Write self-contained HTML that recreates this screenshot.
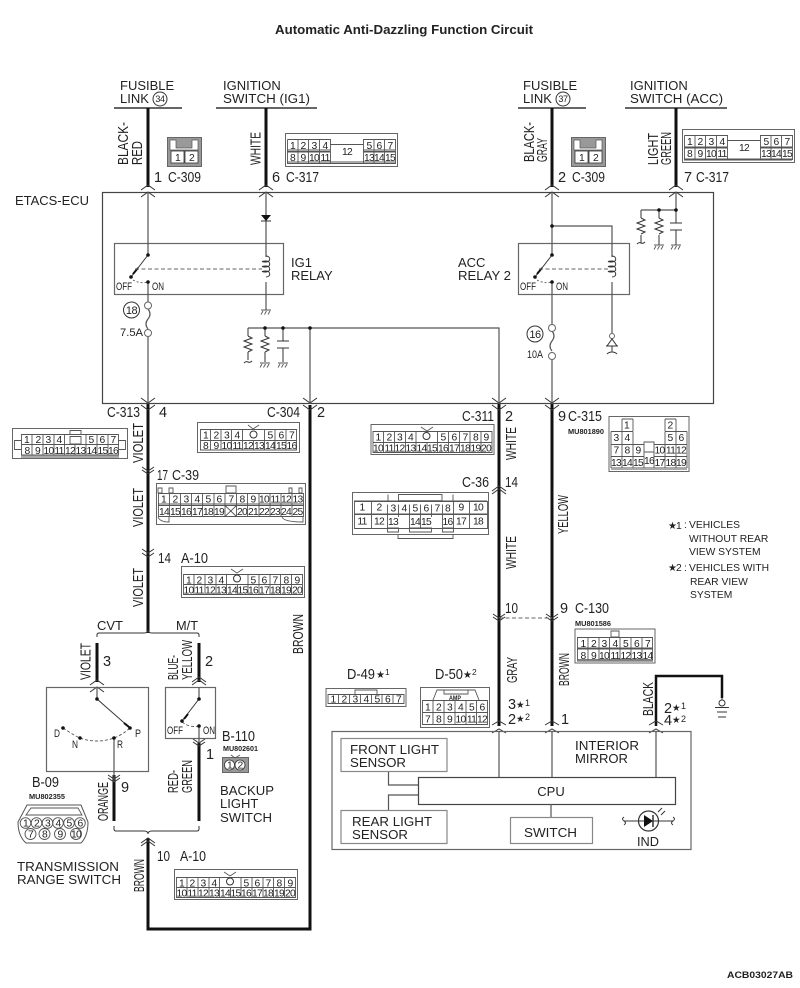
<!DOCTYPE html>
<html><head><meta charset="utf-8">
<style>
html,body{margin:0;padding:0;background:#fff;width:800px;height:988px;overflow:hidden}
svg{display:block}
text{font-family:"Liberation Sans",sans-serif;fill:#222}
.t{font-size:13px}
.c{font-size:14.5px}
.w{font-size:14.5px}
.s{font-size:10.3px}
.m{font-size:7.5px;font-weight:bold}
.n{font-size:10.3px;text-anchor:middle;letter-spacing:-.7px}
.th{fill:none;stroke:#111;stroke-width:3}
.l{fill:none;stroke:#555;stroke-width:1.2}
.b{fill:none;stroke:#666;stroke-width:1.2}
.k{fill:none;stroke:#333;stroke-width:1}
.g{fill:none;stroke:#555;stroke-width:.9}
.o{fill:#fff;stroke:#666;stroke-width:1}
.band{fill:#aaa;stroke:none}
.dash{fill:none;stroke:#666;stroke-width:1;stroke-dasharray:4 2.5}
.d{fill:#111;stroke:none}
</style></head><body>
<svg width="800" height="988" viewBox="0 0 800 988" xmlns="http://www.w3.org/2000/svg">
<text x="275" y="34" style="font-size:12.8px;font-weight:bold" textLength="258" lengthAdjust="spacingAndGlyphs">Automatic Anti-Dazzling Function Circuit</text>
<text x="727" y="978" style="font-size:9.5px;font-weight:bold" textLength="66" lengthAdjust="spacingAndGlyphs">ACB03027AB</text>

<!-- top buses -->
<path class="k" stroke-width="1.5" style="stroke-width:1.5" d="M114 108H182M216 108H317M518 108H586M625 108H727"/>
<text class="t" x="120" y="90">FUSIBLE</text><text class="t" x="120" y="103">LINK</text>
<circle cx="160" cy="99" r="7" class="k"/><text x="160" y="102" style="font-size:9px;text-anchor:middle;letter-spacing:-.4px">34</text>
<text class="t" x="223" y="90">IGNITION</text><text class="t" x="223" y="103" textLength="87" lengthAdjust="spacingAndGlyphs">SWITCH (IG1)</text>
<text class="t" x="523" y="90">FUSIBLE</text><text class="t" x="523" y="103">LINK</text>
<circle cx="563" cy="99" r="7" class="k"/><text x="563" y="102" style="font-size:9px;text-anchor:middle;letter-spacing:-.4px">37</text>
<text class="t" x="630" y="90">IGNITION</text><text class="t" x="630" y="103" textLength="93" lengthAdjust="spacingAndGlyphs">SWITCH (ACC)</text>

<!-- thick wires -->
<path class="th" d="M148 108V187M266 108V187M552 108V187M676 108V187"/>
<path class="th" d="M148 404V633M310 405V929H148V838M499 404V726M552 404V726"/>
<path class="th" d="M97 643V682M199 643V682M114 775V821M199 743V821"/>
<path class="th" style="stroke-width:2.5" d="M656 726V676H722V698"/>

<!-- ECU -->
<rect x="102.500" y="192.500" width="611" height="211" class="b" style="stroke:#444"/>
<text class="t" x="15" y="205" textLength="74" lengthAdjust="spacingAndGlyphs">ETACS-ECU</text>

<!-- wire labels rotated -->
<g>
<text class="w" transform="translate(128,165) rotate(-90)" textLength="43" lengthAdjust="spacingAndGlyphs">BLACK-</text>
<text class="w" transform="translate(142,165) rotate(-90)" textLength="24" lengthAdjust="spacingAndGlyphs">RED</text>
<text class="w" transform="translate(260.500,165) rotate(-90)" textLength="33" lengthAdjust="spacingAndGlyphs">WHITE</text>
<text class="w" transform="translate(534,162) rotate(-90)" textLength="40" lengthAdjust="spacingAndGlyphs">BLACK-</text>
<text class="w" transform="translate(547,162) rotate(-90)" textLength="24" lengthAdjust="spacingAndGlyphs">GRAY</text>
<text class="w" transform="translate(658,165) rotate(-90)" textLength="32" lengthAdjust="spacingAndGlyphs">LIGHT</text>
<text class="w" transform="translate(671,165) rotate(-90)" textLength="33" lengthAdjust="spacingAndGlyphs">GREEN</text>
<text class="w" transform="translate(143,463) rotate(-90)" textLength="40" lengthAdjust="spacingAndGlyphs">VIOLET</text>
<text class="w" transform="translate(143,527) rotate(-90)" textLength="39" lengthAdjust="spacingAndGlyphs">VIOLET</text>
<text class="w" transform="translate(143,607) rotate(-90)" textLength="39" lengthAdjust="spacingAndGlyphs">VIOLET</text>
<text class="w" transform="translate(303,654) rotate(-90)" textLength="40" lengthAdjust="spacingAndGlyphs">BROWN</text>
<text class="w" transform="translate(516,460) rotate(-90)" textLength="33" lengthAdjust="spacingAndGlyphs">WHITE</text>
<text class="w" transform="translate(516,569) rotate(-90)" textLength="33" lengthAdjust="spacingAndGlyphs">WHITE</text>
<text class="w" transform="translate(568,534) rotate(-90)" textLength="39" lengthAdjust="spacingAndGlyphs">YELLOW</text>
<text class="w" transform="translate(517,683) rotate(-90)" textLength="26" lengthAdjust="spacingAndGlyphs">GRAY</text>
<text class="w" transform="translate(569,686) rotate(-90)" textLength="33" lengthAdjust="spacingAndGlyphs">BROWN</text>
<text class="w" transform="translate(653,716) rotate(-90)" textLength="34" lengthAdjust="spacingAndGlyphs">BLACK</text>
<text class="w" transform="translate(90.500,680) rotate(-90)" textLength="37" lengthAdjust="spacingAndGlyphs">VIOLET</text>
<text class="w" transform="translate(178,680) rotate(-90)" textLength="25" lengthAdjust="spacingAndGlyphs">BLUE-</text>
<text class="w" transform="translate(192,680) rotate(-90)" textLength="40" lengthAdjust="spacingAndGlyphs">YELLOW</text>
<text class="w" transform="translate(108,821) rotate(-90)" textLength="39" lengthAdjust="spacingAndGlyphs">ORANGE</text>
<text class="w" transform="translate(178,793) rotate(-90)" textLength="23" lengthAdjust="spacingAndGlyphs">RED-</text>
<text class="w" transform="translate(192,793) rotate(-90)" textLength="33" lengthAdjust="spacingAndGlyphs">GREEN</text>
<text class="w" transform="translate(144,892) rotate(-90)" textLength="33" lengthAdjust="spacingAndGlyphs">BROWN</text>
</g>

<!-- pin / connector labels -->
<g>
<text class="c" x="154" y="182">1</text><text class="c" x="168" y="182" textLength="33" lengthAdjust="spacingAndGlyphs">C-309</text>
<text class="c" x="272" y="182">6</text><text class="c" x="286" y="182" textLength="33" lengthAdjust="spacingAndGlyphs">C-317</text>
<text class="c" x="558" y="182">2</text><text class="c" x="572" y="182" textLength="33" lengthAdjust="spacingAndGlyphs">C-309</text>
<text class="c" x="684" y="182">7</text><text class="c" x="696" y="182" textLength="33" lengthAdjust="spacingAndGlyphs">C-317</text>
<text class="c" x="107" y="417" textLength="33" lengthAdjust="spacingAndGlyphs">C-313</text><text class="c" x="159" y="417">4</text>
<text class="c" x="267" y="417" textLength="33" lengthAdjust="spacingAndGlyphs">C-304</text><text class="c" x="317" y="417">2</text>
<text class="c" x="462" y="421" textLength="32" lengthAdjust="spacingAndGlyphs">C-311</text><text class="c" x="505" y="421">2</text>
<text class="c" x="558" y="421">9</text><text class="c" x="568" y="421" textLength="34" lengthAdjust="spacingAndGlyphs">C-315</text>
<text class="m" x="568" y="434" textLength="36" lengthAdjust="spacingAndGlyphs">MU801890</text>
<text class="c" x="157" y="480" textLength="11" lengthAdjust="spacingAndGlyphs">17</text><text class="c" x="172" y="480" textLength="27" lengthAdjust="spacingAndGlyphs">C-39</text>
<text class="c" x="462" y="487" textLength="27" lengthAdjust="spacingAndGlyphs">C-36</text><text class="c" x="505" y="487" textLength="13" lengthAdjust="spacingAndGlyphs">14</text>
<text class="c" x="158" y="563" textLength="13" lengthAdjust="spacingAndGlyphs">14</text><text class="c" x="181" y="563" textLength="27" lengthAdjust="spacingAndGlyphs">A-10</text>
<text class="c" x="505" y="613" textLength="13" lengthAdjust="spacingAndGlyphs">10</text>
<text class="c" x="560" y="613">9</text><text class="c" x="575" y="613" textLength="34" lengthAdjust="spacingAndGlyphs">C-130</text>
<text class="m" x="575" y="626" textLength="36" lengthAdjust="spacingAndGlyphs">MU801586</text>
<text class="t" x="97" y="630" textLength="26" lengthAdjust="spacingAndGlyphs">CVT</text>
<text class="t" x="176" y="630" textLength="22" lengthAdjust="spacingAndGlyphs">M/T</text>
<text class="c" x="103" y="666">3</text><text class="c" x="205" y="666">2</text>
<text class="c" x="206" y="759">1</text><text class="c" x="121" y="792">9</text>
<text class="c" x="222" y="741" textLength="33" lengthAdjust="spacingAndGlyphs">B-110</text>
<text class="m" x="223" y="751" textLength="35" lengthAdjust="spacingAndGlyphs">MU802601</text>
<text class="c" x="32" y="787" textLength="27" lengthAdjust="spacingAndGlyphs">B-09</text>
<text class="m" x="29" y="799" textLength="36" lengthAdjust="spacingAndGlyphs">MU802355</text>
<text class="c" x="157" y="861" textLength="13" lengthAdjust="spacingAndGlyphs">10</text><text class="c" x="180" y="861" textLength="26" lengthAdjust="spacingAndGlyphs">A-10</text>
<text class="c" x="347" y="679" textLength="28" lengthAdjust="spacingAndGlyphs">D-49</text><text x="376" y="678" style="font-size:10px">★</text><text x="385" y="675" style="font-size:8.500px">1</text>
<text class="c" x="435" y="679" textLength="28" lengthAdjust="spacingAndGlyphs">D-50</text><text x="463" y="678" style="font-size:10px">★</text><text x="472" y="675" style="font-size:8.500px">2</text>
<text class="c" x="508" y="709">3</text><text x="516" y="708" style="font-size:9.500px">★</text><text x="525" y="706" style="font-size:9px">1</text>
<text class="c" x="508" y="724">2</text><text x="516" y="722" style="font-size:9.500px">★</text><text x="525" y="720" style="font-size:9px">2</text>
<text class="c" x="561" y="724">1</text>
<text class="c" x="664" y="713">2</text><text x="672" y="711" style="font-size:9.500px">★</text><text x="681" y="709" style="font-size:9px">1</text>
<text class="c" x="664" y="725">4</text><text x="672" y="723" style="font-size:9.500px">★</text><text x="681" y="722" style="font-size:9px">2</text>
<text class="s" x="668" y="529" style="font-size:10px">★</text><text class="s" x="676" y="529">1</text><text class="s" x="684" y="528">:</text>
<text class="s" x="689" y="528">VEHICLES</text><text class="s" x="689" y="542">WITHOUT REAR</text><text class="s" x="689" y="555">VIEW SYSTEM</text>
<text class="s" x="668" y="571" style="font-size:10px">★</text><text class="s" x="676" y="571">2</text><text class="s" x="684" y="571">:</text>
<text class="s" x="689" y="571">VEHICLES WITH</text><text class="s" x="690" y="585">REAR VIEW</text><text class="s" x="690" y="598">SYSTEM</text>
<text class="t" x="291" y="267">IG1</text><text class="t" x="291" y="280">RELAY</text>
<text class="t" x="458" y="267">ACC</text><text class="t" x="458" y="280" textLength="53" lengthAdjust="spacingAndGlyphs">RELAY 2</text>
<text class="t" x="220" y="795" textLength="54" lengthAdjust="spacingAndGlyphs">BACKUP</text><text class="t" x="220" y="808">LIGHT</text><text class="t" x="220" y="822" textLength="52" lengthAdjust="spacingAndGlyphs">SWITCH</text>
<text class="t" x="17" y="871" textLength="102" lengthAdjust="spacingAndGlyphs">TRANSMISSION</text><text class="t" x="17" y="884" textLength="104" lengthAdjust="spacingAndGlyphs">RANGE SWITCH</text>
</g>

<!-- chevrons -->
<path class="k" d="M141 190L148 185L155 190M141 197L148 192L155 197M259 190L266 185L273 190M259 197L266 192L273 197M545 190L552 185L559 190M545 197L552 192L559 197M669 190L676 185L683 190M669 197L676 192L683 197"/>
<path class="k" d="M141 398L148 403L155 398M141 405L148 410L155 405M303 398L310 403L317 398M303 405L310 410L317 405M492 398L499 403L506 398M492 405L499 410L506 405M545 398L552 403L559 398M545 405L552 410L559 405"/>
<path class="k" d="M142 467L148 471L154 467M142 470L148 474L154 470M142 549L148 553L154 549M142 553L148 557L154 553"/>
<path class="k" d="M492 491L499 486L506 491M492 494L499 489L506 494M493 614L499 618L505 614M493 617L499 621L505 617M546 614L552 618L558 614M546 617L552 621L558 617"/>
<path class="k" d="M90 685L97 680L104 685M90 692L97 687L104 692M192 682L199 677L206 682M192 685L199 680L206 685"/>
<path class="k" d="M108 775L114 779L120 775M108 778L114 782L120 778M193 739L199 743L205 739M193 742L199 746L205 742"/>
<path class="k" d="M141 843L148 838L155 843M141 846L148 841L155 846"/>
<path class="k" d="M492 725L499 721L506 725M492 733L499 729L506 733M545 725L552 721L559 725M545 733L552 729L559 733M649 725L656 721L663 725M649 733L656 729L663 733"/>

<!-- IG1 relay -->
<rect x="114.500" y="243.500" width="169" height="51" class="b"/>
<path class="l" d="M148 192V255M148 282V302M148 337V404"/>
<path class="l" d="M148 309q4 5 0 10q-4 5 0 10"/>
<circle cx="148" cy="305.500" r="3.500" class="o"/><circle cx="148" cy="333" r="3.500" class="o"/>
<path class="k" d="M148 255L131 277"/><path class="th" style="stroke-width:2" d="M138 268L133 274"/>
<circle class="d" cx="148" cy="255" r="1.800"/><circle class="d" cx="131" cy="277" r="1.800"/><circle class="d" cx="148" cy="282" r="1.800"/>
<path class="dash" d="M135 269H262"/>
<path class="g" stroke-dasharray="2 2" d="M133 280Q140 284 148 282"/>
<text class="c" style="font-size:11px" x="116" y="290" textLength="16" lengthAdjust="spacingAndGlyphs">OFF</text>
<text class="c" style="font-size:11px" x="152" y="290" textLength="12" lengthAdjust="spacingAndGlyphs">ON</text>
<circle cx="131.500" cy="310" r="8" class="k"/><text x="131.500" y="314" style="font-size:11px;text-anchor:middle;letter-spacing:-.5px">18</text>
<text x="120" y="336" style="font-size:11px" textLength="23" lengthAdjust="spacingAndGlyphs">7.5A</text>
<path class="l" d="M266 192V257M266 282V310"/>
<path class="d" d="M261 215H271L266 221Z"/><path class="k" d="M261 221H271"/>
<path class="k" d="M266 256c5 0 5 6 0 6c-5 0-5-1 0-1c5 0 5 6 0 6c-5 0-5-1 0-1c5 0 5 6 0 6c-5 0-5-1 0-1c5 0 5 6 0 6"/>
<path class="g" d="M261 310H271M263 311l-2 3.500M266.500 311l-2 3.500M270 311l-2 3.500"/>

<!-- network mid -->
<path class="l" d="M248 328H499V404M310 328V404M265 328V336M265 352V362M283 328V341M283 348V362M248 328V336M248 352V360"/>
<path class="k" d="M248 336l4 2l-8 3l8 3l-8 3l8 3l-4 2M265 336l4 2l-8 3l8 3l-8 3l8 3l-4 2"/>
<path class="k" d="M277 341H289M277 348H289"/>
<path class="k" d="M244 363q2-2 4-1t4-1"/>
<path class="g" d="M260 363H270M262 364l-2 3.500M265.500 364l-2 3.500M269 364l-2 3.500M278 363H288M280 364l-2 3.500M283.500 364l-2 3.500M287 364l-2 3.500"/>
<circle class="d" cx="265" cy="328" r="1.800"/><circle class="d" cx="283" cy="328" r="1.800"/><circle class="d" cx="310" cy="328" r="1.800"/>

<!-- ACC relay -->
<rect x="518.500" y="243.500" width="111" height="51" class="b"/>
<path class="l" d="M552 192V255M552 282V325M552 359V404M552 226H612V257M612 282V333"/>
<path class="l" d="M552 331q4 5 0 10q-4 5 0 10"/>
<circle cx="552" cy="328" r="3.500" class="o"/><circle cx="552" cy="356" r="3.500" class="o"/>
<path class="k" d="M552 255L535 277"/><path class="th" style="stroke-width:2" d="M542 268L537 274"/>
<circle class="d" cx="552" cy="255" r="1.800"/><circle class="d" cx="535" cy="277" r="1.800"/><circle class="d" cx="552" cy="282" r="1.800"/><circle class="d" cx="552" cy="226" r="1.800"/>
<path class="dash" d="M539 269H608"/>
<path class="g" stroke-dasharray="2 2" d="M537 280Q544 284 552 282"/>
<text class="c" style="font-size:11px" x="520" y="290" textLength="16" lengthAdjust="spacingAndGlyphs">OFF</text>
<text class="c" style="font-size:11px" x="556" y="290" textLength="12" lengthAdjust="spacingAndGlyphs">ON</text>
<circle cx="535" cy="334" r="8" class="k"/><text x="535" y="338" style="font-size:11px;text-anchor:middle;letter-spacing:-.5px">16</text>
<text x="527" y="358" style="font-size:11px" textLength="16" lengthAdjust="spacingAndGlyphs">10A</text>
<path class="k" d="M612 256c5 0 5 6 0 6c-5 0-5-1 0-1c5 0 5 6 0 6c-5 0-5-1 0-1c5 0 5 6 0 6c-5 0-5-1 0-1c5 0 5 6 0 6"/>
<circle cx="612" cy="336" r="2.500" class="o"/>
<path class="k" d="M612 339L607 346H617ZM606 346H618M607 354q2-2 5-2t5 2M612 346V352"/>

<!-- ACC network -->
<path class="l" d="M641 210H676M676 192V223M676 230V245M659 210V218M659 235V245M641 210V218M641 235V243"/>
<path class="k" d="M641 218l4 2l-8 3l8 3l-8 3l8 3l-4 2M659 218l4 2l-8 3l8 3l-8 3l8 3l-4 2"/>
<path class="k" d="M670 223H682M670 230H682M637 244q2-2 4-1t4-1"/>
<path class="g" d="M654 245H664M656 246l-2 3.500M659.500 246l-2 3.500M663 246l-2 3.500M671 245H681M673 246l-2 3.500M676.500 246l-2 3.500M680 246l-2 3.500"/>
<circle class="d" cx="659" cy="210" r="1.800"/><circle class="d" cx="676" cy="210" r="1.800"/>

<!-- brackets -->
<path class="k" d="M97 637V635q0-2 2-2H144q4 0 4-3q0 3 4 3H197q2 0 2 2V637"/>
<path class="k" d="M114 826V829q0 2 2 2H144q4 0 4 3q0-3 4-3H197q2 0 2-2V826"/>
<path class="dash" d="M499 618H552"/>

<!-- Transmission boxes -->
<rect x="46.500" y="687.500" width="102" height="84" class="b"/>
<rect x="165.500" y="687.500" width="50" height="51" class="b"/>
<path class="l" d="M97 687V699M114 738V782M199 687V699M199 726V742"/>
<path class="k" d="M97 699L130 728M199 699L182 721"/>
<path class="th" style="stroke-width:2" d="M124 723L129 727M188 714L184 719"/>
<path class="g" stroke-dasharray="3 2" d="M63 728Q75 736 80 738Q97 744 114 738Q122 735 130 728M182 722Q190 728 199 726"/>
<circle class="d" cx="97" cy="699" r="1.800"/><circle class="d" cx="63" cy="728" r="1.800"/><circle class="d" cx="80" cy="738" r="1.800"/><circle class="d" cx="114" cy="738" r="1.800"/><circle class="d" cx="130" cy="728" r="1.800"/>
<circle class="d" cx="199" cy="699" r="1.800"/><circle class="d" cx="182" cy="721" r="1.800"/><circle class="d" cx="199" cy="726" r="1.800"/>
<g style="font-size:11px"><text x="54" y="737" style="font-size:11px" textLength="6" lengthAdjust="spacingAndGlyphs">D</text><text x="72" y="748" style="font-size:11px" textLength="6" lengthAdjust="spacingAndGlyphs">N</text><text x="117" y="748" style="font-size:11px" textLength="6" lengthAdjust="spacingAndGlyphs">R</text><text x="135" y="737" style="font-size:11px" textLength="6" lengthAdjust="spacingAndGlyphs">P</text>
<text x="167" y="734" style="font-size:11px" textLength="16" lengthAdjust="spacingAndGlyphs">OFF</text><text x="203" y="734" style="font-size:11px" textLength="12" lengthAdjust="spacingAndGlyphs">ON</text></g>

<!-- Mirror -->
<rect x="332" y="731.500" width="359" height="118" class="b"/>
<rect x="418.500" y="777.500" width="257" height="27" class="b" style="stroke:#444"/>
<text class="t" x="551" y="796" text-anchor="middle">CPU</text>
<path class="l" d="M499 731V777M552 731V777M656 731V777M551 804V817M388.500 771V785H418M388.500 810V795H418"/>
<rect x="341" y="738.500" width="106" height="33" class="b" style="stroke:#888"/>
<rect x="341" y="810.500" width="106" height="33" class="b" style="stroke:#888"/>
<rect x="510.500" y="817.500" width="82" height="26" class="b" style="stroke:#888"/>
<text class="t" x="350" y="754" textLength="89" lengthAdjust="spacingAndGlyphs">FRONT LIGHT</text><text class="t" x="350" y="767" textLength="56" lengthAdjust="spacingAndGlyphs">SENSOR</text>
<text class="t" x="352" y="826" textLength="80" lengthAdjust="spacingAndGlyphs">REAR LIGHT</text><text class="t" x="352" y="839" textLength="56" lengthAdjust="spacingAndGlyphs">SENSOR</text>
<text class="t" x="524" y="837" textLength="53" lengthAdjust="spacingAndGlyphs">SWITCH</text>
<text class="t" x="575" y="750" textLength="64" lengthAdjust="spacingAndGlyphs">INTERIOR</text><text class="t" x="575" y="763" textLength="53" lengthAdjust="spacingAndGlyphs">MIRROR</text>
<circle cx="648.500" cy="821" r="10" class="k" style="stroke-width:1.200"/>
<path class="k" d="M624 821H673M624 817q-3 2 0 4q3 2 0 4M673 817q3 2 0 4q-3 2 0 4"/>
<path class="d" d="M644 815L653 821L644 827Z"/><path class="k" style="stroke-width:1.500" d="M653 815V827"/>
<path class="k" d="M658 812L662 808M661 815L665 811"/>
<text class="t" x="637" y="846" textLength="22" lengthAdjust="spacingAndGlyphs">IND</text>

<!-- ground -->
<path class="k" d="M722 698V700"/><circle cx="722" cy="703" r="3" class="o" style="stroke:#333"/>
<path class="k" d="M715 707.500H729M717 712H727M718 717H726"/>

<!-- C-309 left -->
<g>
<rect x="167.500" y="137.500" width="34" height="29" fill="#999" stroke="#666"/>
<path d="M170 140h6v8h16v-8h6v10h-28z" fill="#fff" stroke="#555" stroke-width=".7"/>
<rect x="171" y="151" width="13" height="12" fill="#fff" stroke="#333" stroke-width=".8"/><rect x="185" y="151" width="13" height="12" fill="#fff" stroke="#333" stroke-width=".8"/>
<text class="n" x="177.500" y="161">1</text><text class="n" x="191.500" y="161">2</text>
</g>
<!-- C-309 right -->
<g>
<rect x="571.500" y="137.500" width="34" height="29" fill="#999" stroke="#666"/>
<path d="M574 140h6v8h16v-8h6v10h-28z" fill="#fff" stroke="#555" stroke-width=".7"/>
<rect x="575" y="151" width="13" height="12" fill="#fff" stroke="#333" stroke-width=".8"/><rect x="589" y="151" width="13" height="12" fill="#fff" stroke="#333" stroke-width=".8"/>
<text class="n" x="581.500" y="161">1</text><text class="n" x="595.500" y="161">2</text>
</g>
<!-- C-317 left -->
<g>
<rect x="285.500" y="133.500" width="112" height="33" fill="#fff" stroke="#666"/>
<rect x="287" y="149" width="43" height="4" class="band"/><rect x="363" y="149" width="32" height="4" class="band"/><rect x="287" y="161" width="108" height="3" class="band"/>
<path class="g" d="M287.500 139.500V163.500H395.500V139.500H363.500V163.500M287.500 139.500H330.500V163.500M298 139.500V163.500M308.500 139.500V163.500M319.500 139.500V163.500M374 139.500V163.500M384.500 139.500V163.500M330 144.500H363M287.500 151.500H330M363.500 151.500H395.500"/>
<text class="n" x="292.500" y="149">1</text><text class="n" x="303" y="149">2</text><text class="n" x="314" y="149">3</text><text class="n" x="325" y="149">4</text><text class="n" x="347" y="155">12</text><text class="n" x="369" y="149">5</text><text class="n" x="379" y="149">6</text><text class="n" x="390" y="149">7</text>
<text class="n" x="292.500" y="161">8</text><text class="n" x="303" y="161">9</text><text class="n" x="314" y="161">10</text><text class="n" x="325" y="161">11</text><text class="n" x="369" y="161">13</text><text class="n" x="379" y="161">14</text><text class="n" x="390" y="161">15</text>
</g>
<!-- C-317 right -->
<g>
<rect x="682.500" y="129.500" width="112" height="33" fill="#fff" stroke="#666"/>
<rect x="684" y="146" width="43" height="3" class="band"/><rect x="760" y="146" width="32" height="3" class="band"/><rect x="684" y="158" width="108" height="3" class="band"/>
<path class="g" d="M684.500 135.500V159.500H792.500V135.500H760.500V159.500M684.500 135.500H727.500V159.500M695 135.500V159.500M705.500 135.500V159.500M716.500 135.500V159.500M771 135.500V159.500M781.500 135.500V159.500M727 140.500H760M684.500 147.500H727M760.500 147.500H792.500"/>
<text class="n" x="689.500" y="145">1</text><text class="n" x="700" y="145">2</text><text class="n" x="711" y="145">3</text><text class="n" x="722" y="145">4</text><text class="n" x="744" y="151">12</text><text class="n" x="766" y="145">5</text><text class="n" x="776" y="145">6</text><text class="n" x="787" y="145">7</text>
<text class="n" x="689.500" y="157">8</text><text class="n" x="700" y="157">9</text><text class="n" x="711" y="157">10</text><text class="n" x="722" y="157">11</text><text class="n" x="766" y="157">13</text><text class="n" x="776" y="157">14</text><text class="n" x="787" y="157">15</text>
</g>
<!-- C-313 -->
<g>
<rect x="12.500" y="428.500" width="115" height="30" fill="#fff" stroke="#666"/>
<rect x="21" y="455" width="98" height="3" class="band"/>
<path class="g" d="M14.500 440.500H21.500V449.500H14.500ZM118.500 440.500H125.500V449.500H118.500ZM21.500 434.500H118.500V455H21.500ZM21.500 444.500H118.500M32 434.500V455M43 434.500V455M54 434.500V455M64.500 434.500V455M86 434.500V455M97 434.500V455M108 434.500V455M75 444.500V455M70 430.500H81V434.500H70ZM70 436.500H81V444H70Z"/>
<text class="n" x="26.500" y="443">1</text><text class="n" x="38" y="443">2</text><text class="n" x="48" y="443">3</text><text class="n" x="59" y="443">4</text><text class="n" x="91" y="443">5</text><text class="n" x="102" y="443">6</text><text class="n" x="113" y="443">7</text>
<text class="n" x="27" y="454">8</text><text class="n" x="37.500" y="454">9</text><text class="n" x="48.500" y="454">10</text><text class="n" x="59" y="454">11</text><text class="n" x="70" y="454">12</text><text class="n" x="80.500" y="454">13</text><text class="n" x="91.500" y="454">14</text><text class="n" x="102.500" y="454">15</text><text class="n" x="113" y="454">16</text>
</g>
<!-- C-304 -->
<g>
<rect x="197.500" y="422.500" width="102" height="30" fill="#fff" stroke="#666"/>
<path class="g" d="M200.500 429.500H296.500V450H200.500ZM200.500 440.500H296.500M210.500 429.500V450M221 429.500V450M231.500 429.500V450M242.500 429.500V450M264.500 429.500V450M275 429.500V450M286 429.500V450M253.500 440.500V450M248 425L253 429L259 425"/>
<circle cx="253.500" cy="434.500" r="3.500" class="k"/>
<text class="n" x="205.500" y="438.500">1</text><text class="n" x="216" y="438.500">2</text><text class="n" x="226.500" y="438.500">3</text><text class="n" x="237" y="438.500">4</text><text class="n" x="270" y="438.500">5</text><text class="n" x="281" y="438.500">6</text><text class="n" x="291.500" y="438.500">7</text>
<text class="n" x="205.500" y="449">8</text><text class="n" x="216" y="449">9</text><text class="n" x="226.500" y="449">10</text><text class="n" x="237" y="449">11</text><text class="n" x="248" y="449">12</text><text class="n" x="259" y="449">13</text><text class="n" x="270" y="449">14</text><text class="n" x="281" y="449">15</text><text class="n" x="291.500" y="449">16</text>
</g>
<!-- C-39 -->
<g>
<rect x="156.500" y="483.500" width="149" height="41" fill="#fff" stroke="#666"/>
<rect x="158" y="503" width="146" height="3" class="band"/>
<path class="g" d="M158.500 493.500H303.500V516.500H158.500ZM158.500 505.500H303.500M169.500 493.500V516.500M180.500 493.500V516.500M191.500 493.500V516.500M202.500 493.500V516.500M214 493.500V516.500M225 493.500V516.500M236.500 493.500V516.500M247.500 493.500V516.500M259 493.500V516.500M270 493.500V516.500M281 493.500V516.500M292 493.500V516.500M225 505.500L236.500 516.500M236.500 505.500L225 516.500M226 486H236V493H226ZM158 488H162V493H158ZM169 488H173V493H169ZM289 488H292V493H289ZM299 488H302V493H299ZM158 517Q160 522 169 522V517M282 517Q284 522 303 522V517"/>
<text class="n" x="163.500" y="502.500">1</text><text class="n" x="175" y="502.500">2</text><text class="n" x="186" y="502.500">3</text><text class="n" x="197" y="502.500">4</text><text class="n" x="208" y="502.500">5</text><text class="n" x="219" y="502.500">6</text><text class="n" x="231" y="502.500">7</text><text class="n" x="242" y="502.500">8</text><text class="n" x="253" y="502.500">9</text><text class="n" x="264" y="502.500">10</text><text class="n" x="275" y="502.500">11</text><text class="n" x="286" y="502.500">12</text><text class="n" x="297.500" y="502.500">13</text>
<text class="n" x="164" y="515">14</text><text class="n" x="175" y="515">15</text><text class="n" x="186" y="515">16</text><text class="n" x="197" y="515">17</text><text class="n" x="208" y="515">18</text><text class="n" x="219" y="515">19</text><text class="n" x="242" y="515">20</text><text class="n" x="253" y="515">21</text><text class="n" x="264" y="515">22</text><text class="n" x="275" y="515">23</text><text class="n" x="286" y="515">24</text><text class="n" x="297.500" y="515">25</text>
</g>
<!-- A-10 top -->
<g>
<rect x="181.500" y="566.500" width="123" height="31" fill="#fff" stroke="#666"/>
<path class="g" d="M183.500 574.500H302.500V594.500H183.500ZM183.500 584.500H302.500M194 574.500V594.500M205 574.500V594.500M216 574.500V594.500M226.500 574.500V594.500M248 574.500V594.500M259 574.500V594.500M270 574.500V594.500M280.500 574.500V594.500M291.500 574.500V594.500M237.500 584.500V594.500M231 569L237 573L243 569"/>
<circle cx="237" cy="578.500" r="3.500" class="k"/>
<text class="n" x="188.500" y="583.500">1</text><text class="n" x="199" y="583.500">2</text><text class="n" x="210" y="583.500">3</text><text class="n" x="221" y="583.500">4</text><text class="n" x="253" y="583.500">5</text><text class="n" x="264" y="583.500">6</text><text class="n" x="275" y="583.500">7</text><text class="n" x="286" y="583.500">8</text><text class="n" x="297" y="583.500">9</text>
<text class="n" x="188.500" y="593.500">10</text><text class="n" x="199" y="593.500">11</text><text class="n" x="210" y="593.500">12</text><text class="n" x="221" y="593.500">13</text><text class="n" x="232" y="593.500">14</text><text class="n" x="242.500" y="593.500">15</text><text class="n" x="253" y="593.500">16</text><text class="n" x="264" y="593.500">17</text><text class="n" x="275" y="593.500">18</text><text class="n" x="286" y="593.500">19</text><text class="n" x="297" y="593.500">20</text>
</g>
<!-- A-10 bottom -->
<g>
<rect x="174.500" y="869.500" width="123" height="30" fill="#fff" stroke="#666"/>
<path class="g" d="M176.500 877.500H295.500V897.500H176.500ZM176.500 887.500H295.500M187 877.500V897.500M198 877.500V897.500M209 877.500V897.500M219.500 877.500V897.500M241 877.500V897.500M252 877.500V897.500M263 877.500V897.500M273.500 877.500V897.500M284.500 877.500V897.500M230.500 887.500V897.500M224 872L230 876L236 872"/>
<circle cx="230" cy="881.500" r="3.500" class="k"/>
<text class="n" x="181.500" y="886.500">1</text><text class="n" x="192" y="886.500">2</text><text class="n" x="203" y="886.500">3</text><text class="n" x="214" y="886.500">4</text><text class="n" x="246" y="886.500">5</text><text class="n" x="257" y="886.500">6</text><text class="n" x="268" y="886.500">7</text><text class="n" x="279" y="886.500">8</text><text class="n" x="290" y="886.500">9</text>
<text class="n" x="181.500" y="896.500">10</text><text class="n" x="192" y="896.500">11</text><text class="n" x="203" y="896.500">12</text><text class="n" x="214" y="896.500">13</text><text class="n" x="225" y="896.500">14</text><text class="n" x="235.500" y="896.500">15</text><text class="n" x="246" y="896.500">16</text><text class="n" x="257" y="896.500">17</text><text class="n" x="268" y="896.500">18</text><text class="n" x="279" y="896.500">19</text><text class="n" x="290" y="896.500">20</text>
</g>
<!-- C-311 -->
<g>
<rect x="371" y="424.500" width="123" height="30" fill="#fff" stroke="#666"/>
<path class="g" d="M373 431.500H492V452.500H373ZM373 442.500H492M383.500 431.500V452.500M394.500 431.500V452.500M405.500 431.500V452.500M416 431.500V452.500M437.500 431.500V452.500M448.500 431.500V452.500M459.500 431.500V452.500M470 431.500V452.500M481 431.500V452.500M427 442.500V452.500M421 427L427 431L433 427"/>
<circle cx="426.500" cy="436" r="3.500" class="k"/>
<text class="n" x="378" y="440.500">1</text><text class="n" x="389" y="440.500">2</text><text class="n" x="399.500" y="440.500">3</text><text class="n" x="410.500" y="440.500">4</text><text class="n" x="443" y="440.500">5</text><text class="n" x="454" y="440.500">6</text><text class="n" x="465" y="440.500">7</text><text class="n" x="475.500" y="440.500">8</text><text class="n" x="486" y="440.500">9</text>
<text class="n" x="378" y="451.500">10</text><text class="n" x="389" y="451.500">11</text><text class="n" x="399.500" y="451.500">12</text><text class="n" x="410.500" y="451.500">13</text><text class="n" x="421.500" y="451.500">14</text><text class="n" x="432" y="451.500">15</text><text class="n" x="443" y="451.500">16</text><text class="n" x="454" y="451.500">17</text><text class="n" x="465" y="451.500">18</text><text class="n" x="475.500" y="451.500">19</text><text class="n" x="486" y="451.500">20</text>
</g>
<!-- C-36 -->
<g>
<rect x="352.500" y="492.500" width="136" height="42" fill="#fff" stroke="#666"/>
<rect x="354" y="500" width="133" height="2" class="band"/><rect x="354" y="513" width="133" height="2" class="band"/>
<path class="g" d="M354.500 501.500H487.500V528.500H354.500ZM371.500 501.500V528.500M387.500 504.500V528.500M398.500 504.500V517M409.500 504.500V528.500M420.500 504.500V528.500M431.500 504.500V517M442.500 504.500V528.500M453.500 501.500V528.500M469.500 501.500V528.500M354.500 514.500H487.500M387.500 528H398.500V532H387.500ZM409.500 528H431.500V532H409.500ZM442.500 528H453.500V532H442.500ZM398 534.500V538.500H453V534.500M398.500 494.500H442V501H398.500ZM388 494.500V502M453 494.500V502"/>
<text class="n" x="362" y="510.500">1</text><text class="n" x="379" y="510.500">2</text><text class="n" x="393" y="511.500">3</text><text class="n" x="404" y="511.500">4</text><text class="n" x="415" y="511.500">5</text><text class="n" x="426" y="511.500">6</text><text class="n" x="437" y="511.500">7</text><text class="n" x="447.500" y="511.500">8</text><text class="n" x="461" y="510.500">9</text><text class="n" x="478" y="510.500">10</text>
<text class="n" x="362" y="524.500">11</text><text class="n" x="379" y="524.500">12</text><text class="n" x="393" y="525">13</text><text class="n" x="415" y="525">14</text><text class="n" x="426" y="525">15</text><text class="n" x="447.500" y="525">16</text><text class="n" x="461" y="524.500">17</text><text class="n" x="478" y="524.500">18</text>
</g>
<!-- C-315 -->
<g>
<rect x="609" y="416.500" width="80" height="55" fill="#fff" stroke="#666"/>
<rect x="611" y="467" width="76" height="3" class="band"/>
<path class="g" d="M622 419V431M633 419V431M622 419H633M665 419V431M676 419V431M665 419H676M611 431.500H633M665 431.500H687M611 431.500V468M622 431.500V468M633 431.500V468M644 444V468M611 444.500H644M654 444V468M665 431.500V468M676 431.500V468M687 431.500V468M654 444.500H687M611 456.500H644M654 456.500H687M644 442H654V452H644Z"/>
<text class="n" x="626.500" y="428.500">1</text><text class="n" x="670" y="428.500">2</text><text class="n" x="616" y="441">3</text><text class="n" x="627" y="441">4</text><text class="n" x="670" y="441">5</text><text class="n" x="681" y="441">6</text>
<text class="n" x="616" y="453.500">7</text><text class="n" x="627" y="453.500">8</text><text class="n" x="638" y="453.500">9</text><text class="n" x="659.500" y="453.500">10</text><text class="n" x="670.500" y="453.500">11</text><text class="n" x="681" y="453.500">12</text>
<text class="n" x="616" y="466">13</text><text class="n" x="627" y="466">14</text><text class="n" x="638" y="466">15</text><text class="n" x="649" y="464">16</text><text class="n" x="659.500" y="466">17</text><text class="n" x="670.500" y="466">18</text><text class="n" x="681" y="466">19</text>
</g>
<!-- C-130 -->
<g>
<rect x="575" y="629" width="80" height="34" fill="#fff" stroke="#666"/>
<rect x="577" y="647" width="76" height="3" class="band"/><rect x="577" y="659" width="76" height="3" class="band"/>
<path class="g" d="M577.500 637.500H652.500V660H577.500ZM577.500 648.500H652.500M588 637.500V660M599 637.500V660M609.500 637.500V660M620 637.500V660M631 637.500V660M642 637.500V660M611 631H619V637H611Z"/>
<text class="n" x="583" y="647">1</text><text class="n" x="593.500" y="647">2</text><text class="n" x="604" y="647">3</text><text class="n" x="615" y="647">4</text><text class="n" x="625.500" y="647">5</text><text class="n" x="636.500" y="647">6</text><text class="n" x="647.500" y="647">7</text>
<text class="n" x="583" y="659">8</text><text class="n" x="593.500" y="659">9</text><text class="n" x="604" y="659">10</text><text class="n" x="615" y="659">11</text><text class="n" x="625.500" y="659">12</text><text class="n" x="636.500" y="659">13</text><text class="n" x="647.500" y="659">14</text>
</g>
<!-- D-49 -->
<g>
<rect x="326" y="688.500" width="80" height="18" fill="#fff" stroke="#666"/>
<path class="g" d="M328 694.500H404V703.500H328ZM338.500 694.500V703.500M349.500 694.500V703.500M360.500 694.500V703.500M371.500 694.500V703.500M382 694.500V703.500M393 694.500V703.500M355 694V690H377V694"/>
<text class="n" x="333" y="702.500">1</text><text class="n" x="344" y="702.500">2</text><text class="n" x="355" y="702.500">3</text><text class="n" x="366" y="702.500">4</text><text class="n" x="377" y="702.500">5</text><text class="n" x="387.500" y="702.500">6</text><text class="n" x="398.500" y="702.500">7</text>
</g>
<!-- D-50 -->
<g>
<rect x="420.500" y="687.500" width="69" height="40" fill="#fff" stroke="#666"/>
<path class="g" d="M422.500 700.500H487.500V724.500H422.500ZM422.500 712.500H487.500M433 700.500V724.500M444 700.500V724.500M455 700.500V724.500M466 700.500V724.500M476.500 700.500V724.500M433 700L437 690H475L479 700M444 690V694H468V690"/>
<text x="449" y="700" style="font-size:6.500px;font-weight:bold" textLength="12" lengthAdjust="spacingAndGlyphs">AMP</text>
<text class="n" x="427.500" y="710.500">1</text><text class="n" x="438.500" y="710.500">2</text><text class="n" x="449.500" y="710.500">3</text><text class="n" x="460.500" y="710.500">4</text><text class="n" x="471.500" y="710.500">5</text><text class="n" x="482" y="710.500">6</text>
<text class="n" x="427.500" y="722.500">7</text><text class="n" x="438.500" y="722.500">8</text><text class="n" x="449.500" y="722.500">9</text><text class="n" x="460.500" y="722.500">10</text><text class="n" x="471.500" y="722.500">11</text><text class="n" x="482" y="722.500">12</text>
</g>
<!-- B-110 -->
<g>
<rect x="222.500" y="757.500" width="26" height="15" fill="#999" stroke="#666"/>
<circle cx="229.500" cy="765" r="5" fill="#fff" stroke="#333" stroke-width=".8"/><circle cx="240" cy="765" r="5" fill="#fff" stroke="#333" stroke-width=".8"/>
<path class="g" d="M231 755L235 758L240 755"/>
<text class="n" x="229.500" y="768.500">1</text><text class="n" x="240" y="768.500">2</text>
</g>
<!-- B-09 -->
<g>
<path d="M27 805H81L88 822Q88 836 81 843H26Q18 836 18 822Z" fill="#fff" stroke="#555" stroke-width="1"/>
<path d="M31 808H78L82 815H26Z" fill="#fff" stroke="#555" stroke-width=".9"/>
<circle class="g" cx="25.500" cy="823" r="5.300"/><circle class="g" cx="36.500" cy="823" r="5.300"/><circle class="g" cx="47.500" cy="823" r="5.300"/><circle class="g" cx="58" cy="823" r="5.300"/><circle class="g" cx="69" cy="823" r="5.300"/><circle class="g" cx="80" cy="823" r="5.300"/>
<circle class="g" cx="30.500" cy="834" r="5.500"/><circle class="g" cx="44.500" cy="834" r="5.500"/><circle class="g" cx="60" cy="834" r="5.500"/><circle class="g" cx="76" cy="834" r="5.500"/>
<text class="n" x="25.500" y="826.500">1</text><text class="n" x="36.500" y="826.500">2</text><text class="n" x="47.500" y="826.500">3</text><text class="n" x="58" y="826.500">4</text><text class="n" x="69" y="826.500">5</text><text class="n" x="80" y="826.500">6</text>
<text class="n" x="30.500" y="837.500">7</text><text class="n" x="44.500" y="837.500">8</text><text class="n" x="60" y="837.500">9</text><text class="n" x="76" y="837.500">10</text>
</g>
</svg>
</body></html>
